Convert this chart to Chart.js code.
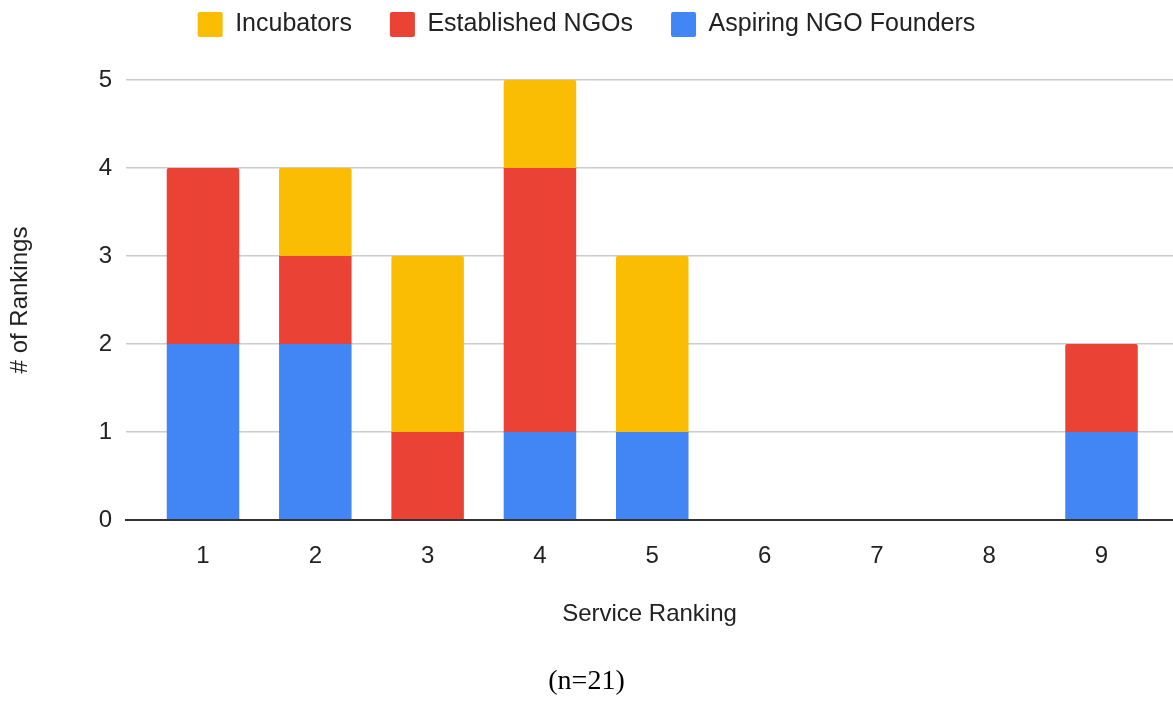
<!DOCTYPE html>
<html>
<head>
<meta charset="utf-8">
<script src="https://cdn.jsdelivr.net/npm/chart.js@4.4.1/dist/chart.umd.min.js"></script>
<style>
html,body{margin:0;padding:0;background:#fff;}
canvas{display:block;}
</style>
</head>
<body>
<canvas id="c" width="1173" height="705"></canvas>
<script>
// ---- data ----
const categories = [1, 2, 3, 4, 5, 6, 7, 8, 9];
const tickLabels = ['1', '2', '3', '4', '5', '6', '7', '8', '9'];
const yTicks = [0, 1, 2, 3, 4, 5];
const aspiringNGOFounders = [2, 2, 0, 1, 1, 0, 0, 0, 1];
const establishedNGOs     = [2, 1, 1, 3, 0, 0, 0, 0, 1];
const incubators          = [0, 1, 2, 1, 2, 0, 0, 0, 0];

const toPoints = arr => categories.map((c, i) => ({ x: c, y: arr[i] }));

Chart.defaults.font.family = '"Liberation Sans", Arial, sans-serif';
Chart.defaults.color = '#222222';

new Chart(document.getElementById('c'), {
  type: 'bar',
  data: {
    datasets: [
      { label: 'Aspiring NGO Founders', data: toPoints(aspiringNGOFounders), backgroundColor: '#4285F4' },
      { label: 'Established NGOs',      data: toPoints(establishedNGOs),     backgroundColor: '#EA4335' },
      { label: 'Incubators',            data: toPoints(incubators),          backgroundColor: '#FBBC04' }
    ]
  },
  options: {
    responsive: false,
    animation: false,
    devicePixelRatio: 1,
    categoryPercentage: 0.6456,
    barPercentage: 1,
    borderRadius: 2,
    borderSkipped: 'start',
    layout: { padding: { top: -26, bottom: 6.7, left: 0, right: 0 } },
    scales: {
      x: {
        type: 'linear',
        stacked: true,
        offset: false,
        min: 0.3144,
        max: 9.6366,
        grid: { display: false, offset: false },
        border: { display: true, color: '#333333', width: 2, z: 1 },
        afterBuildTicks: s => { s.ticks = categories.map(v => ({ value: v })); },
        ticks: {
          callback: v => tickLabels[categories.indexOf(v)],
          padding: 13.6,
          color: '#222222',
          font: { size: 24 },
          maxRotation: 0,
          autoSkip: false
        },
        title: {
          display: true,
          text: 'Service Ranking',
          color: '#222222',
          font: { size: 24 },
          padding: { top: 0, bottom: 35.6 }
        },
        afterFit: s => { s.height = 144.7; }
      },
      y: {
        stacked: true,
        min: 0,
        max: 5,
        afterBuildTicks: s => { s.ticks = yTicks.map(v => ({ value: v })); },
        ticks: { padding: 14, color: '#222222', font: { size: 24 } },
        grid: {
          color: ctx => (ctx.tick && ctx.tick.value === 0) ? '#333333' : '#cccccc',
          lineWidth: 1.5,
          drawTicks: false
        },
        border: { display: false },
        title: {
          display: true,
          text: '# of Rankings',
          color: '#222222',
          font: { size: 24 },
          padding: { top: 5.6, bottom: 0 }
        },
        afterFit: s => { s.width = 126; }
      }
    },
    plugins: {
      legend: {
        position: 'top',
        reverse: true,
        labels: {
          boxWidth: 25,
          boxHeight: 25,
          padding: 38,
          color: '#222222',
          font: { size: 25 },
          useBorderRadius: true,
          borderRadius: 2
        }
      },
      title: {
        display: true,
        text: ' ',
        position: 'top',
        weight: 100,
        font: { size: 10, lineHeight: 1 },
        padding: { top: 0, bottom: 23 }
      },
      subtitle: {
        display: true,
        text: '(n=21)',
        position: 'bottom',
        color: '#000000',
        font: { family: '"Liberation Serif", "Times New Roman", serif', size: 28, weight: 'normal', lineHeight: 1.2 },
        padding: 0
      },
      tooltip: { enabled: false }
    }
  }
});
</script>
</body>
</html>
